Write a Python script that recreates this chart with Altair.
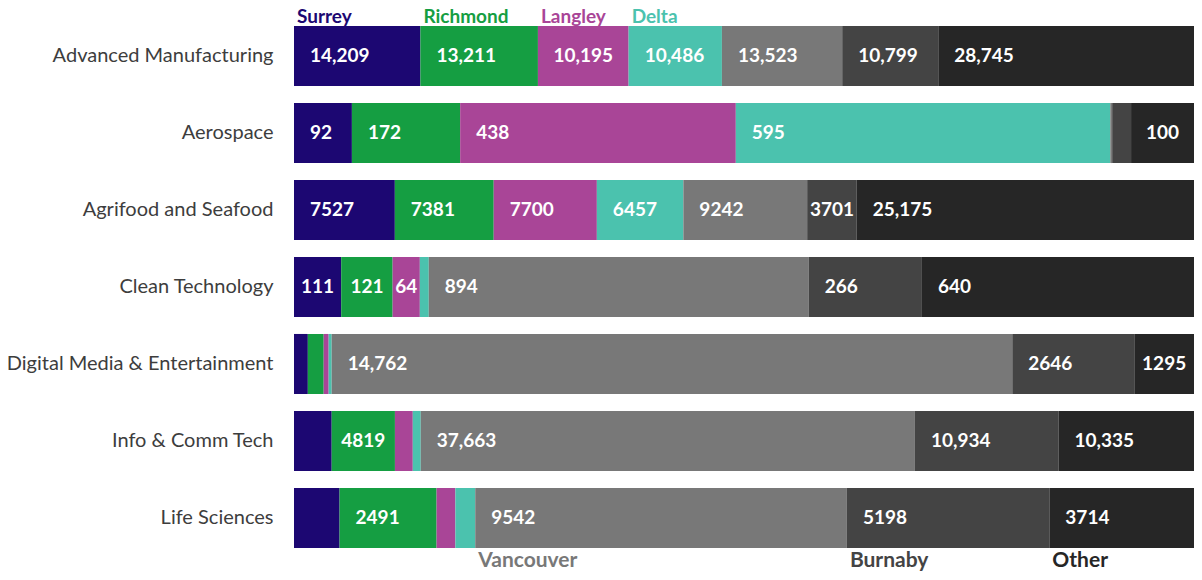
import altair as alt
import pandas as pd

industries = [
    "Advanced Manufacturing",
    "Aerospace",
    "Agrifood and Seafood",
    "Clean Technology",
    "Digital Media & Entertainment",
    "Info & Comm Tech",
    "Life Sciences",
]
cities = ["Surrey", "Richmond", "Langley", "Delta", "Vancouver", "Burnaby", "Other"]
colors = ["#1c0772", "#159e42", "#a94597", "#4bc2ae", "#787878", "#444444", "#262626"]

surrey = [14209, 92, 7527, 111, 300, 2873, 1170]
richmond = [13211, 172, 7381, 121, 344, 4819, 2491]
langley = [10195, 438, 7700, 64, 108, 1361, 483]
delta = [10486, 595, 6457, 21, 65, 605, 509]
vancouver = [13523, 3, 9242, 894, 14762, 37663, 9542]
burnaby = [10799, 30, 3701, 266, 2646, 10934, 5198]
other = [28745, 100, 25175, 640, 1295, 10335, 3714]

# segments whose value is not printed in the reference
hidden = [
    ("Aerospace", "Vancouver"), ("Aerospace", "Burnaby"),
    ("Clean Technology", "Delta"),
    ("Digital Media & Entertainment", "Surrey"), ("Digital Media & Entertainment", "Richmond"),
    ("Digital Media & Entertainment", "Langley"), ("Digital Media & Entertainment", "Delta"),
    ("Info & Comm Tech", "Surrey"), ("Info & Comm Tech", "Langley"), ("Info & Comm Tech", "Delta"),
    ("Life Sciences", "Surrey"), ("Life Sciences", "Langley"), ("Life Sciences", "Delta"),
]

PLOT_W = 900
series = [surrey, richmond, langley, delta, vancouver, burnaby, other]


def fmt(v):
    return f"{v:,}" if v >= 10000 else str(v)


def text_w(s):
    return sum(4.8 if c == "," else 11.0 for c in s)


rows = []
for i, ind in enumerate(industries):
    total = sum(s[i] for s in series)
    for j, c in enumerate(cities):
        v = series[j][i]
        lab = "" if (ind, c) in hidden else fmt(v)
        seg = v / total * PLOT_W
        rows.append(dict(industry=ind, city=c, order=j, value=v, label=lab,
                         centered=bool(seg < text_w(lab) + 32)))
df = pd.DataFrame(rows)

base = alt.Chart(df).transform_stack(
    stack="value", groupby=["industry"], as_=["x0", "x1"], offset="normalize",
    sort=[alt.SortField("order", order="ascending")],
).transform_calculate(mid="(datum.x0 + datum.x1) / 2")

xscale = alt.Scale(domain=[0, 1], nice=False, zero=False)
yenc = alt.Y(
    "industry:N", sort=industries,
    scale=alt.Scale(range=[18, 540], paddingInner=0.22, paddingOuter=0),
    axis=alt.Axis(title=None, ticks=False, domain=False, grid=False, labelPadding=21,
                  labelFont="Lato", labelFontSize=20, labelColor="#3d3d3d", labelLimit=400),
)
color = alt.Color("city:N", scale=alt.Scale(domain=cities, range=colors), legend=None)

bars = base.mark_bar().encode(
    x=alt.X("x0:Q", scale=xscale, axis=None), x2="x1:Q", y=yenc, color=color
)

lab_left = base.transform_filter('datum.label != "" && !datum.centered').mark_text(
    align="left", baseline="middle", dx=16, font="Lato", fontWeight="bold", fontSize=19, color="white"
).encode(x=alt.X("x0:Q", scale=xscale, axis=None), y=yenc, text="label:N")

lab_center = base.transform_filter('datum.label != "" && datum.centered').mark_text(
    align="center", baseline="middle", font="Lato", fontWeight="bold", fontSize=19, color="white"
).encode(x=alt.X("mid:Q", scale=xscale, axis=None), y=yenc, text="label:N")

top_names = base.transform_filter(
    alt.FieldEqualPredicate(field="industry", equal=industries[0])
).transform_filter("datum.order < 4").mark_text(
    align="left", baseline="alphabetic", dx=3, font="Lato", fontWeight="bold", fontSize=19
).encode(x=alt.X("x0:Q", scale=xscale, axis=None), y=alt.value(15), text="city:N", color=color)

bottom_names = base.transform_filter(
    alt.FieldEqualPredicate(field="industry", equal=industries[-1])
).transform_filter("datum.order >= 4").mark_text(
    align="left", baseline="alphabetic", dx=3, font="Lato", fontWeight="bold", fontSize=21
).encode(x=alt.X("x0:Q", scale=xscale, axis=None), y=alt.value(559), text="city:N", color=color)

chart = alt.layer(bars, lab_left, lab_center, top_names, bottom_names).properties(
    width=PLOT_W, height=564,
    autosize=alt.AutoSizeParams(type="none"),
    padding={"left": 286, "top": 0, "right": 0, "bottom": 0},
).configure_view(stroke=None)

chart.save("out.html", embed_options={"renderer": "svg", "actions": False})
